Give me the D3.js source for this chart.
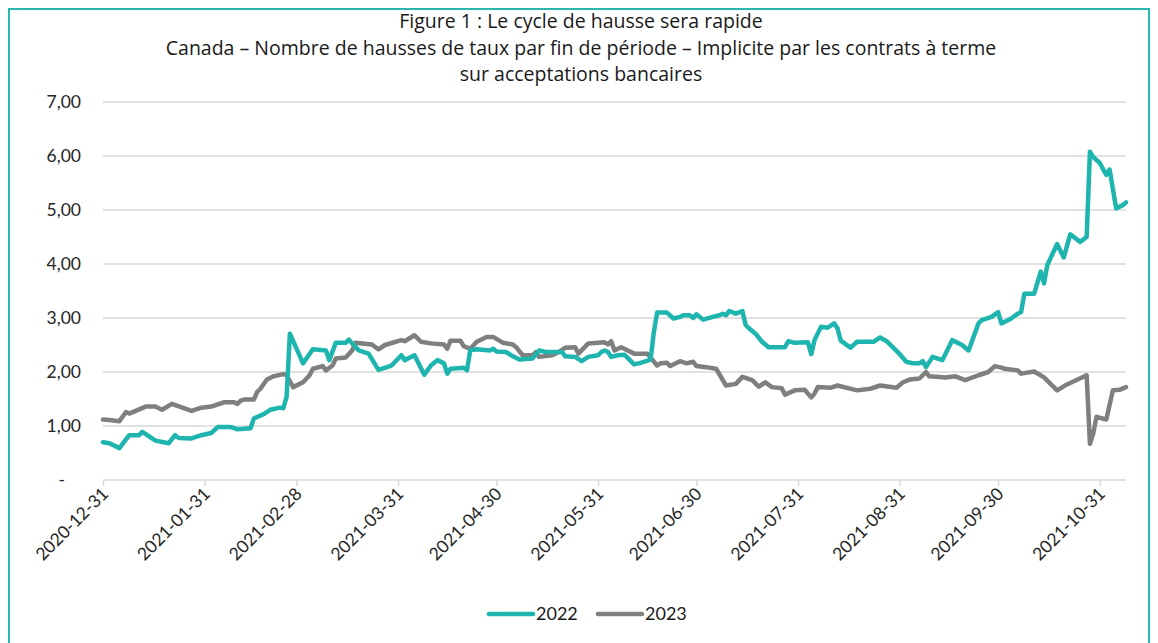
<!DOCTYPE html>
<html><head><meta charset="utf-8">
<script src="https://cdn.jsdelivr.net/npm/d3@7/dist/d3.min.js"></script>
<style>
body{margin:0;background:#fff;}
svg{display:block;font-family:Lato,"Open Sans",sans-serif;}
</style>
</head><body>
<svg id="c" width="1158" height="643"></svg>
<script>
const titleLines = [
  "Figure 1 : Le cycle de hausse sera rapide",
  "Canada – Nombre de hausses de taux par fin de période – Implicite par les contrats à terme",
  "sur acceptations bancaires"
];
const seriesNames = ["2022", "2023"];
const yTicks = [0, 1, 2, 3, 4, 5, 6, 7];
const xTickDates = ["2020-12-31","2021-01-31","2021-02-28","2021-03-31","2021-04-30","2021-05-31",
  "2021-06-30","2021-07-31","2021-08-31","2021-09-30","2021-10-31"];

const dates2022 = ["2020-12-31","2021-01-02","2021-01-05","2021-01-08","2021-01-11","2021-01-12","2021-01-16","2021-01-20","2021-01-22","2021-01-23",
  "2021-01-27","2021-01-30","2021-02-02","2021-02-04","2021-02-08","2021-02-10","2021-02-14","2021-02-15","2021-02-18","2021-02-20",
  "2021-02-23","2021-02-24","2021-02-25","2021-02-26","2021-03-02","2021-03-05","2021-03-09","2021-03-10","2021-03-12","2021-03-15",
  "2021-03-16","2021-03-17","2021-03-19","2021-03-22","2021-03-25","2021-03-29","2021-04-01","2021-04-02","2021-04-05","2021-04-08",
  "2021-04-10","2021-04-12","2021-04-14","2021-04-15","2021-04-16","2021-04-20","2021-04-21","2021-04-22","2021-04-24","2021-04-28",
  "2021-04-29","2021-04-30","2021-05-03","2021-05-05","2021-05-07","2021-05-11","2021-05-13","2021-05-15","2021-05-20","2021-05-21",
  "2021-05-24","2021-05-26","2021-05-28","2021-05-31","2021-06-01","2021-06-02","2021-06-03","2021-06-04","2021-06-06","2021-06-08",
  "2021-06-11","2021-06-13","2021-06-16","2021-06-17","2021-06-18","2021-06-21","2021-06-23","2021-06-25","2021-06-26","2021-06-28",
  "2021-06-29","2021-06-30","2021-07-02","2021-07-05","2021-07-07","2021-07-08","2021-07-09","2021-07-10","2021-07-12","2021-07-14",
  "2021-07-15","2021-07-16","2021-07-18","2021-07-20","2021-07-22","2021-07-27","2021-07-28","2021-07-30","2021-08-03","2021-08-04",
  "2021-08-05","2021-08-07","2021-08-09","2021-08-11","2021-08-12","2021-08-13","2021-08-16","2021-08-18","2021-08-23","2021-08-25",
  "2021-08-27","2021-08-31","2021-09-02","2021-09-04","2021-09-06","2021-09-07","2021-09-08","2021-09-10","2021-09-13","2021-09-16",
  "2021-09-19","2021-09-21","2021-09-24","2021-09-25","2021-09-28","2021-09-30","2021-10-01","2021-10-04","2021-10-06","2021-10-07",
  "2021-10-08","2021-10-11","2021-10-13","2021-10-14","2021-10-15","2021-10-18","2021-10-20","2021-10-22","2021-10-25","2021-10-27",
  "2021-10-28","2021-10-29","2021-10-31","2021-11-02","2021-11-03","2021-11-05","2021-11-07","2021-11-08"];
const values2022 = [0.70,0.68,0.59,0.83,0.83,0.89,0.73,0.68,0.83,0.78,
  0.77,0.83,0.87,0.98,0.98,0.94,0.96,1.14,1.22,1.30,
  1.34,1.33,1.54,2.71,2.16,2.42,2.40,2.22,2.54,2.54,
  2.60,2.53,2.40,2.34,2.04,2.12,2.31,2.22,2.31,1.95,
  2.12,2.22,2.16,1.97,2.06,2.08,2.03,2.40,2.42,2.40,
  2.43,2.38,2.37,2.29,2.23,2.25,2.40,2.37,2.37,2.29,
  2.28,2.20,2.28,2.31,2.37,2.40,2.37,2.28,2.31,2.32,
  2.14,2.17,2.23,2.74,3.10,3.10,2.99,3.02,3.05,3.05,
  3.00,3.07,2.97,3.02,3.05,3.08,3.05,3.13,3.08,3.13,
  2.87,2.81,2.71,2.56,2.46,2.46,2.57,2.54,2.55,2.33,
  2.59,2.84,2.82,2.90,2.81,2.58,2.45,2.56,2.56,2.64,
  2.57,2.33,2.19,2.16,2.16,2.20,2.09,2.28,2.22,2.59,
  2.50,2.40,2.90,2.96,3.02,3.11,2.90,2.99,3.08,3.11,
  3.45,3.45,3.86,3.64,3.98,4.37,4.12,4.55,4.41,4.50,
  6.08,5.98,5.87,5.65,5.75,5.03,5.09,5.14];

const dates2023 = ["2020-12-31","2021-01-02","2021-01-05","2021-01-07","2021-01-08","2021-01-13","2021-01-16","2021-01-18","2021-01-21","2021-01-27",
  "2021-01-30","2021-02-02","2021-02-06","2021-02-09","2021-02-10","2021-02-11","2021-02-12","2021-02-15","2021-02-16","2021-02-17",
  "2021-02-19","2021-02-21","2021-02-24","2021-02-25","2021-02-27","2021-03-02","2021-03-04","2021-03-05","2021-03-08","2021-03-09",
  "2021-03-11","2021-03-12","2021-03-15","2021-03-17","2021-03-18","2021-03-23","2021-03-25","2021-03-27","2021-04-01","2021-04-02",
  "2021-04-05","2021-04-07","2021-04-10","2021-04-14","2021-04-15","2021-04-16","2021-04-19","2021-04-20","2021-04-22","2021-04-24",
  "2021-04-27","2021-04-29","2021-05-02","2021-05-05","2021-05-06","2021-05-08","2021-05-11","2021-05-12","2021-05-13","2021-05-17",
  "2021-05-19","2021-05-21","2021-05-24","2021-05-25","2021-05-28","2021-06-02","2021-06-03","2021-06-04","2021-06-05","2021-06-07",
  "2021-06-11","2021-06-15","2021-06-18","2021-06-19","2021-06-21","2021-06-22","2021-06-25","2021-06-27","2021-06-29","2021-06-30",
  "2021-07-03","2021-07-06","2021-07-09","2021-07-12","2021-07-14","2021-07-17","2021-07-19","2021-07-21","2021-07-23","2021-07-26",
  "2021-07-27","2021-07-30","2021-08-02","2021-08-04","2021-08-05","2021-08-06","2021-08-10","2021-08-12","2021-08-18","2021-08-22",
  "2021-08-25","2021-08-30","2021-09-01","2021-09-03","2021-09-06","2021-09-08","2021-09-09","2021-09-14","2021-09-17","2021-09-20",
  "2021-09-24","2021-09-27","2021-09-29","2021-10-01","2021-10-02","2021-10-06","2021-10-07","2021-10-11","2021-10-14","2021-10-16",
  "2021-10-18","2021-10-21","2021-10-27","2021-10-28","2021-10-29","2021-10-30","2021-11-02","2021-11-04","2021-11-06","2021-11-08"];
const values2023 = [1.12,1.11,1.09,1.26,1.23,1.36,1.36,1.30,1.41,1.28,
  1.34,1.36,1.44,1.44,1.41,1.47,1.49,1.49,1.63,1.69,
  1.86,1.92,1.96,1.94,1.72,1.81,1.94,2.06,2.11,2.03,
  2.12,2.25,2.27,2.40,2.54,2.51,2.42,2.50,2.59,2.57,
  2.68,2.56,2.53,2.51,2.43,2.58,2.58,2.48,2.43,2.56,
  2.65,2.65,2.54,2.51,2.46,2.31,2.31,2.37,2.28,2.31,
  2.37,2.45,2.46,2.34,2.53,2.55,2.51,2.57,2.40,2.46,
  2.34,2.34,2.12,2.16,2.17,2.11,2.20,2.16,2.19,2.11,
  2.09,2.06,1.75,1.78,1.91,1.85,1.73,1.81,1.72,1.70,
  1.58,1.66,1.67,1.53,1.60,1.72,1.71,1.75,1.66,1.69,
  1.75,1.71,1.81,1.86,1.88,2.00,1.92,1.90,1.92,1.85,
  1.94,2.00,2.11,2.08,2.06,2.03,1.97,2.01,1.90,1.78,
  1.66,1.77,1.94,0.67,0.86,1.17,1.12,1.66,1.67,1.72];

const colors = ["#1db5ad", "#7f7f7f"];
const parse = d3.timeParse("%Y-%m-%d");
const fmtDate = d3.timeFormat("%Y-%m-%d");

const svg = d3.select("#c");
const W = 1158, H = 643;
const plot = {left: 103, right: 1126, top: 102, bottom: 480};

// frame (bottom edge lies just beyond the visible area)
svg.append("rect").attr("x", 9).attr("y", 9).attr("width", W - 18).attr("height", H)
  .attr("fill", "none").attr("stroke", "#2bb6b0").attr("stroke-width", 2);

// title
svg.append("g").selectAll("text").data(titleLines).join("text")
  .attr("x", 581).attr("y", (d, i) => 28 + i * 26.5)
  .attr("text-anchor", "middle").attr("font-size", 19.5).attr("fill", "#1a1a1a")
  .attr("font-family", "'Open Sans', sans-serif")
  .text(d => d);

const x = d3.scaleTime()
  .domain([parse("2020-12-31"), parse("2021-11-08")])
  .range([plot.left, plot.right]);
const y = d3.scaleLinear().domain([0, 7]).range([plot.bottom, plot.top]);

// gridlines
svg.append("g").selectAll("line").data(yTicks.filter(v => v > 0)).join("line")
  .attr("x1", plot.left).attr("x2", plot.right)
  .attr("y1", d => y(d)).attr("y2", d => y(d))
  .attr("stroke", "#d9d9d9").attr("stroke-width", 1.5);

// y axis labels
const yAxis = d3.axisLeft(y).tickValues(yTicks).tickSize(0).tickPadding(22)
  .tickFormat(v => v === 0 ? "-" : d3.format(".2f")(v).replace(".", ","));
const gy = svg.append("g").attr("transform", `translate(${plot.left},0)`).call(yAxis);
gy.select(".domain").remove();
gy.selectAll("text").attr("font-size", 17.5).attr("fill", "#262626").attr("font-family", "Lato, sans-serif");
gy.selectAll(".tick").filter(d => d === 0).select("text").attr("dx", -16);

// x axis
const xAxis = d3.axisBottom(x).tickValues(xTickDates.map(parse)).tickSize(6).tickFormat(fmtDate);
const gx = svg.append("g").attr("transform", `translate(0,${plot.bottom})`).call(xAxis);
gx.select(".domain").attr("stroke", "#d9d9d9").attr("stroke-width", 1.5)
  .attr("d", `M${plot.left},0H${plot.right}`);
gx.selectAll(".tick line").attr("stroke", "#d9d9d9").attr("stroke-width", 1.5);
gx.selectAll(".tick text")
  .attr("font-size", 17.5).attr("fill", "#262626").attr("font-family", "Lato, sans-serif")
  .attr("text-anchor", "end").attr("dy", null).attr("y", 0)
  .attr("transform", "translate(6,15) rotate(-45)");

// lines
const series = [
  {name: seriesNames[0], dates: dates2022, values: values2022},
  {name: seriesNames[1], dates: dates2023, values: values2023}
];
const line = d3.line().x(d => x(d.date)).y(d => y(d.value));
series.slice().reverse().forEach((s) => {
  const idx = seriesNames.indexOf(s.name);
  const pts = s.dates.map((d, i) => ({date: parse(d), value: s.values[i]}));
  svg.append("path").datum(pts).attr("d", line)
    .attr("fill", "none").attr("stroke", colors[idx]).attr("stroke-width", 4.5)
    .attr("stroke-linejoin", "round").attr("stroke-linecap", "round");
});

// legend
const legendX = [489, 598];
const lg = svg.append("g");
seriesNames.forEach((n, i) => {
  lg.append("line").attr("x1", legendX[i]).attr("x2", legendX[i] + 44)
    .attr("y1", 614).attr("y2", 614).attr("stroke", colors[i]).attr("stroke-width", 4.5)
    .attr("stroke-linecap", "round");
  lg.append("text").attr("x", legendX[i] + 47).attr("y", 620)
    .attr("font-size", 18).attr("fill", "#1a1a1a").text(n);
});
</script>
</body></html>
